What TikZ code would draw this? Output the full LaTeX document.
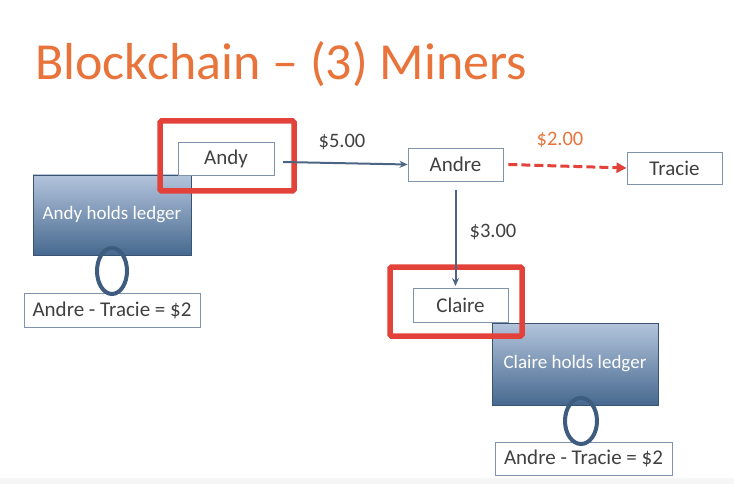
\documentclass[tikz,border=0pt]{standalone}
\usepackage{fontspec}
\setmainfont{Carlito}
\usetikzlibrary{arrows.meta,shapes.geometric}
\definecolor{titleor}{HTML}{E8743B}
\definecolor{redfr}{HTML}{E2423A}
\definecolor{boxbd}{HTML}{7F93AD}
\definecolor{txt}{HTML}{404040}
\definecolor{arr}{HTML}{4D6585}
\definecolor{ltop}{HTML}{B3C4DC}
\definecolor{lbot}{HTML}{47698F}
\definecolor{ring}{HTML}{3E5C7E}
\tikzset{
  x=1pt,y=-1pt,
  namebox/.style={draw=boxbd,line width=0.9pt,fill=white,text=txt,font=\fontsize{21}{24}\selectfont,inner sep=0pt},
  ledger/.style={draw=lbot!80!black,line width=0.5pt,top color=ltop,bottom color=lbot,text=white,font=\fontsize{19}{22}\selectfont,inner sep=0pt},
  frame/.style={draw=redfr,line width=5.5pt,rounded corners=1.5pt},
  ring/.style={draw=ring,line width=4pt,ellipse,inner sep=0pt},
  flow/.style={draw=arr,line width=2pt,-{Stealth[length=8pt,width=7pt]}},
  lbl/.style={text=txt,font=\fontsize{20.5}{24}\selectfont}
}
\begin{document}
\begin{tikzpicture}
\useasboundingbox (0,0) rectangle (734,484);
\fill[gray!7] (0,478) rectangle (734,484);
\node[anchor=base west,text=titleor,font=\fontsize{52}{60}\selectfont,inner sep=0pt] (title) at (35,80) {Blockchain – (3) Miners};
% ledger boxes
\node[ledger,minimum width=158pt,minimum height=80pt] (al) at (112,215) {Andy holds ledger};
\node[ledger,minimum width=166pt,minimum height=82pt] (cl) at (575,364) {Claire holds ledger};
% record boxes
\node[namebox,minimum width=176pt,minimum height=34pt] (ar) at (112,310) {Andre - Tracie = \$2};
\node[namebox,minimum width=177pt,minimum height=33pt] (cr) at (583.5,458.5) {Andre - Tracie = \$2};
% rings
\node[ring,minimum width=30pt,minimum height=46pt] (r1) at (112,271) {};
\node[ring,minimum width=32pt,minimum height=46pt] (r2) at (581,421) {};
% name boxes
\node[namebox,minimum width=96pt,minimum height=33pt] (andy) at (226,158.5) {Andy};
\node[namebox,minimum width=95pt,minimum height=33pt] (andre) at (455.5,164.5) {Andre};
\node[namebox,minimum width=95pt,minimum height=32pt] (tracie) at (674.5,168) {Tracie};
\node[namebox,minimum width=95pt,minimum height=34pt] (claire) at (460.5,305) {Claire};
% red frames
\draw[frame] (160,121) rectangle (294,191);
\draw[frame] (390,267) rectangle (522,336);
% arrows
\coordinate (a1) at (283,162);
\draw[flow] (a1) -- (andre.west);
\node[lbl] (l5) at (342,142) {\$5.00};
\draw[draw=redfr,line width=3pt,dash pattern=on 9pt off 4pt,-{Triangle[length=10pt,width=10pt]}] (andre.east) ++(5,0) -- (tracie.west);
\node[lbl,text=titleor] (l2) at (560,140) {\$2.00};
\coordinate (a2) at (455.5,190);
\draw[flow] (a2) -- (455.5,286);
\node[lbl] (l3) at (493,232) {\$3.00};
\end{tikzpicture}
\end{document}
